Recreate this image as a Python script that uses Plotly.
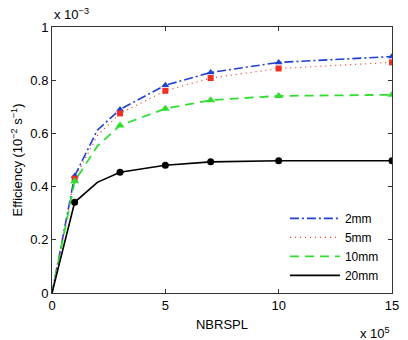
import plotly.graph_objects as go

x = [0, 1, 2, 3, 5, 7, 10, 15]
mm2 = [0, 0.44, 0.612, 0.69, 0.781, 0.829, 0.867, 0.889]
mm5 = [0, 0.43, 0.592, 0.675, 0.760, 0.808, 0.844, 0.867]
mm10 = [0, 0.42, 0.552, 0.630, 0.693, 0.725, 0.741, 0.745]
mm20 = [0, 0.341, 0.416, 0.454, 0.480, 0.493, 0.497, 0.497]
marker_shown = [0, 1, 0, 1, 1, 1, 1, 1]
x_ticks = [0, 5, 10, 15]
y_ticks = [0, 0.2, 0.4, 0.6, 0.8, 1]

fig = go.Figure()

series = [
    ("2mm", mm2, "#2040d0", "9px,3px,2px,3px", 1.6, "triangle-up", 7),
    ("5mm", mm5, "#f03020", "1px,4px", 1.2, "square", 6),
    ("10mm", mm10, "#30dd30", "9px,6px", 1.8, "triangle-up", 8),
    ("20mm", mm20, "#000000", "solid", 1.6, "circle", 7),
]
for name, ys, col, dash, w, sym, ms in series:
    fig.add_trace(go.Scatter(
        x=x, y=ys, mode="lines", name=name,
        line=dict(color=col, dash=dash, width=w),
    ))
for name, ys, col, dash, w, sym, ms in series:
    fig.add_trace(go.Scatter(
        x=[xv for xv, m in zip(x, marker_shown) if m],
        y=[yv for yv, m in zip(ys, marker_shown) if m],
        mode="markers", showlegend=False,
        marker=dict(color=col, symbol=sym, size=ms, line=dict(width=0)),
    ))

font = dict(family="Liberation Sans, Arial, sans-serif", size=13, color="#000")
axis_common = dict(
    showline=True, linecolor="#333", linewidth=1, mirror="ticks",
    ticks="inside", ticklen=4, tickcolor="#333", showgrid=False,
    zeroline=False, tickfont=font,
)
fig.update_xaxes(range=[0, 15], tickvals=x_ticks, ticktext=[str(v) for v in x_ticks],
                 title=dict(text="NBRSPL", font=font, standoff=8), **axis_common)
fig.update_yaxes(range=[0, 1], tickvals=y_ticks, ticktext=["0", "0.2", "0.4", "0.6", "0.8", "1"],
                 title=dict(text="Efficiency (10<sup>−2</sup> s<sup>−1</sup>)", font=font, standoff=4),
                 **axis_common)

fig.add_annotation(text="x 10<sup>−3</sup>", xref="paper", yref="paper", x=0, y=1.01,
                   xanchor="left", yanchor="bottom", showarrow=False, font=font)
fig.add_annotation(text="x 10<sup>5</sup>", xref="paper", yref="paper", x=1.0, y=-0.112,
                   xanchor="right", yanchor="top", showarrow=False, font=font)

fig.update_layout(
    width=408, height=340,
    margin=dict(l=52, r=9, t=27, b=47),
    plot_bgcolor="white", paper_bgcolor="white",
    font=font,
    legend=dict(x=0.685, y=0.335, xanchor="left", yanchor="top", bgcolor="rgba(0,0,0,0)",
                font=dict(family="Liberation Sans, Arial, sans-serif", size=12, color="#000"),
                tracegroupgap=0, itemwidth=50),
)

fig.write_html("out.html", config={"displayModeBar": False},
               post_script="document.body.style.margin='0';document.body.style.overflow='hidden';")
